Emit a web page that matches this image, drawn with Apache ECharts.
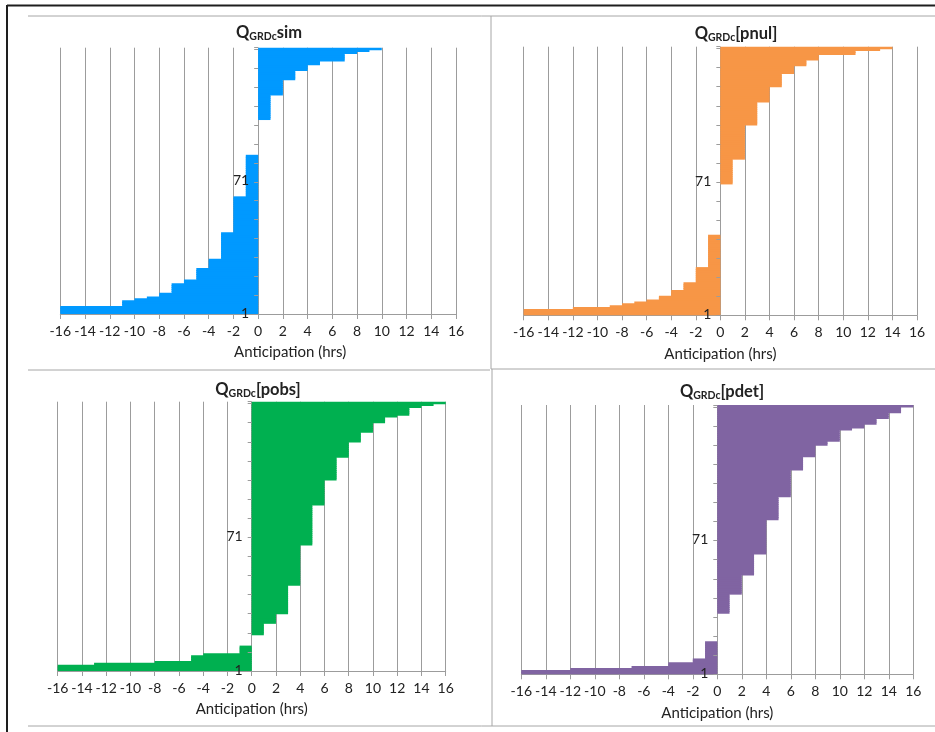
<!DOCTYPE html>
<html>
<head>
<meta charset="utf-8">
<script src="https://cdn.jsdelivr.net/npm/echarts@6/dist/echarts.min.js"></script>
<style>
html, body { margin: 0; padding: 0; background: #ffffff; }
#chart { width: 935px; height: 732px; }
</style>
</head>
<body>
<div id="chart"></div>
<script>
// ---------------- DATA (anticipation in hours of each event, sorted, 141 events per panel) ----------------
const panelTitles = ['sim', '[pnul]', '[pobs]', '[pdet]'];
const seriesColors = ['#0099FF', '#F79646', '#00B050', '#8064A2'];
const xAxisTitle = 'Anticipation (hrs)';
const xMin = -16, xMax = 16, xStep = 2;
const yLabelsShown = ['1', '71'];
const eventRanks = Array.from({ length: 141 }, (_, i) => String(i + 1));

const simHours = [
  -16, -16, -16, -16, -11, -11, -11, -10, -9, -8, -8,
  -7, -7, -7, -7, -7, -6, -6, -5, -5, -5, -5, -5, -5,
  -4, -4, -4, -4, -4,
  -3, -3, -3, -3, -3, -3, -3, -3, -3, -3, -3, -3, -3, -3,
  -2, -2, -2, -2, -2, -2, -2, -2, -2, -2,
  -2, -2, -2, -2, -2, -2, -2, -2, -2,
  -1, -1, -1, -1, -1, -1, -1, -1, -1, -1,
  -1, -1, -1, -1, -1, -1, -1, -1, -1, -1,
  -1, -1,
  0, 0, 0, 0, 0, 0, 0, 0, 0, 0,
  0, 0, 0, 0, 0, 0, 0, 0, 0,
  1, 1, 1, 1, 1, 1, 1, 1, 1, 1, 1, 1, 1,
  2, 2, 2, 2, 2, 2, 2, 2,
  3, 3, 3, 3, 3,
  4, 4, 4,
  5, 5,
  7, 7, 7, 7,
  8, 9, 10
];

const pnulHours = [
  -16, -16, -16, -12, -9, -8, -7, -6, -5, -5,
  -4, -4, -4, -3, -3, -3, -3,
  -2, -2, -2, -2, -2, -2, -2, -2,
  -1, -1, -1, -1, -1, -1, -1, -1, -1, -1,
  -1, -1, -1, -1, -1, -1, -1,
  0, 0, 0, 0, 0, 0, 0, 0, 0, 0,
  0, 0, 0, 0, 0, 0, 0, 0, 0, 0,
  0, 0, 0, 0, 0, 0, 0,
  1, 1, 1, 1, 1, 1, 1, 1, 1, 1, 1, 1, 1,
  2, 2, 2, 2, 2, 2, 2, 2, 2, 2,
  2, 2, 2, 2, 2, 2, 2, 2,
  3, 3, 3, 3, 3, 3, 3, 3, 3, 3, 3, 3,
  4, 4, 4, 4, 4, 4, 4, 4,
  5, 5, 5, 5, 5, 5, 5,
  6, 6, 6, 6,
  7, 7, 7,
  8, 8, 8,
  11, 11, 13, 14
];

const pobsHours = [
  -16, -16, -16, -13, -8, -5, -5, -5, -4, -1, -1, -1, -1,
  0, 0, 0, 0, 0, 0,
  1, 1, 1, 1, 1, 1,
  2, 2, 2, 2, 2,
  3, 3, 3, 3, 3, 3, 3, 3, 3, 3, 3, 3, 3, 3, 3,
  4, 4, 4, 4, 4, 4, 4, 4, 4, 4,
  4, 4, 4, 4, 4, 4, 4, 4, 4, 4, 4,
  5, 5, 5, 5, 5, 5, 5, 5, 5, 5,
  5, 5, 5, 5, 5, 5, 5, 5, 5, 5, 5,
  6, 6, 6, 6, 6, 6, 6, 6, 6, 6, 6, 6, 6,
  7, 7, 7, 7, 7, 7, 7, 7, 7, 7, 7, 7,
  8, 8, 8, 8, 8, 8, 8, 8,
  9, 9, 9, 9, 9,
  10, 10, 10, 10, 10,
  11, 11, 11,
  12,
  13, 13, 13, 13,
  14, 15, 16
];

const pdetHours = [
  -16, -16, -12, -7, -4, -4, -2, -2,
  -1, -1, -1, -1, -1, -1, -1, -1, -1,
  0, 0, 0, 0, 0, 0, 0, 0, 0, 0, 0, 0, 0, 0, 0,
  1, 1, 1, 1, 1, 1, 1, 1, 1, 1,
  2, 2, 2, 2, 2, 2, 2, 2, 2, 2,
  3, 3, 3, 3, 3, 3, 3, 3, 3, 3, 3,
  4, 4, 4, 4, 4, 4, 4, 4, 4, 4,
  4, 4, 4, 4, 4, 4, 4, 4,
  5, 5, 5, 5, 5, 5, 5, 5, 5, 5, 5, 5,
  6, 6, 6, 6, 6, 6, 6, 6, 6, 6, 6, 6, 6, 6,
  7, 7, 7, 7, 7, 7, 7,
  8, 8, 8, 8, 8, 8,
  9, 9,
  10, 10, 10, 10, 10, 10,
  11,
  12, 12,
  13, 13, 13,
  14, 14, 14,
  15, 15, 15,
  16
];

const panelData = [simHours, pnulHours, pobsHours, pdetHours];

// ---------------- LAYOUT / STYLE ----------------
const FONT = 'Lato, "Open Sans", sans-serif';
const TEXT = '#222222';
const GRID_LINE = '#9c9c9c';
const layout = [
  { grid: { left: 60.3, right: 479, top: 47.7, bottom: 418 }, title: [269, 33], namePad: [0, 0, 0, 64] },
  { grid: { left: 523.7, right: 18, top: 46.7, bottom: 416.7 }, title: [736, 34], namePad: [0, 0, 0, 0] },
  { grid: { left: 57.7, right: 489.3, top: 401.7, bottom: 61 }, title: [258, 390], namePad: [0, 0, 0, 0] },
  { grid: { left: 521.3, right: 21.7, top: 405, bottom: 57.7 }, title: [722, 392], namePad: [0, 0, 0, 0] }
];

const grids = [], xAxes = [], yAxes = [], series = [], graphics = [];

layout.forEach((L, i) => {
  const g = L.grid;
  const plotWidth = 935 - g.left - g.right;
  grids.push(Object.assign({ containLabel: false, outerBoundsMode: 'none' }, g));
  xAxes.push({
    type: 'value', gridIndex: i, min: xMin, max: xMax, interval: xStep,
    name: xAxisTitle, nameLocation: 'middle', nameGap: 31,
    nameTextStyle: { color: TEXT, fontFamily: FONT, fontSize: 15, padding: L.namePad },
    axisLine: { show: true, onZero: false, lineStyle: { color: GRID_LINE, width: 1 } },
    axisTick: { show: true, length: 5, lineStyle: { color: GRID_LINE, width: 1 } },
    splitLine: { show: true, lineStyle: { color: GRID_LINE, width: 1 } },
    axisLabel: { color: TEXT, fontFamily: FONT, fontSize: 14, margin: 10 }
  });
  yAxes.push({
    type: 'category', gridIndex: i, data: eventRanks, boundaryGap: true,
    position: 'left', offset: -plotWidth / 2, z: 5,
    axisLine: { show: false, onZero: false },
    axisTick: { show: true, length: 4, interval: 9, lineStyle: { color: GRID_LINE, width: 1 } },
    splitLine: { show: false },
    axisLabel: {
      color: TEXT, fontFamily: FONT, fontSize: 14, margin: 9,
      interval: (idx, val) => yLabelsShown.indexOf(val) >= 0
    }
  });
  series.push({
    type: 'bar', xAxisIndex: i, yAxisIndex: i, data: panelData[i],
    barWidth: '160%', barGap: '-100%', silent: true,
    itemStyle: { color: seriesColors[i] }
  });
  graphics.push({
    type: 'text', x: L.title[0], y: L.title[1], z: 10,
    style: {
      text: '{q|Q}{s|GRDc}{q|' + panelTitles[i] + '}',
      align: 'center', verticalAlign: 'middle', textAlign: 'center', textVerticalAlign: 'middle',
      fill: TEXT,
      rich: {
        q: { fontFamily: FONT, fontWeight: 'bold', fontSize: 16.5, lineHeight: 19, fill: TEXT, color: TEXT },
        s: { fontFamily: FONT, fontWeight: 'bold', fontSize: 10.5, lineHeight: 12, verticalAlign: 'bottom', fill: TEXT, color: TEXT }
      }
    }
  });
});

// panel separators and outer frame
const PANEL_LINE = '#a6a6a6';
const sepLines = [
  [28, 16, 935, 16], [491, 16, 491, 369], [491, 369, 935, 369],
  [28, 370, 490, 370], [492, 369, 492, 726], [28, 726, 935, 726]
];
sepLines.forEach(s => graphics.push({
  type: 'line', z: 1, silent: true,
  shape: { x1: s[0], y1: s[1], x2: s[2], y2: s[3] },
  style: { stroke: PANEL_LINE, lineWidth: 1 }
}));
graphics.push({ type: 'line', z: 1, silent: true, shape: { x1: 7, y1: 5.5, x2: 935, y2: 5.5 }, style: { stroke: '#1e1e1e', lineWidth: 2 } });
graphics.push({ type: 'line', z: 1, silent: true, shape: { x1: 7, y1: 5, x2: 7, y2: 732 }, style: { stroke: '#1e1e1e', lineWidth: 2 } });

const chart = echarts.init(document.getElementById('chart'), null, { renderer: 'canvas' });
chart.setOption({
  animation: false,
  backgroundColor: '#ffffff',
  grid: grids,
  xAxis: xAxes,
  yAxis: yAxes,
  series: series,
  graphic: graphics
});
</script>
</body>
</html>
